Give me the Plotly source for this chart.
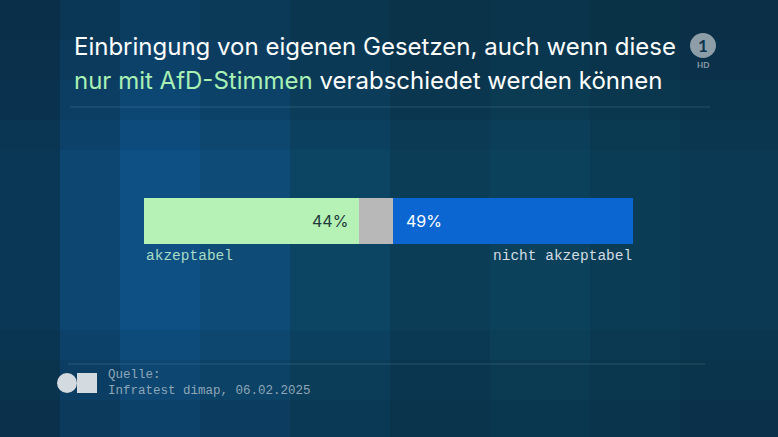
import plotly.graph_objects as go

W, H = 778, 437

# data
categories = ["akzeptabel", "weiß nicht", "nicht akzeptabel"]
values = [44, 7, 49]
value_labels = ["44%", "", "49%"]
bar_colors = ["#b6f2b6", "#b8b8b8", "#0b66d2"]
text_colors = ["#1d3b3a", "#1d3b3a", "#ffffff"]

title_line1 = "Einbringung von eigenen Gesetzen, auch wenn diese"
title_green = "nur mit AfD-Stimmen"
title_rest = " verabschiedet werden können"
source_lines = ["Quelle:", "Infratest dimap, 06.02.2025"]


def px(x):
    return x / W


def py(y):
    return 1 - y / H


fig = go.Figure()
for cat, val, col in zip(categories, values, bar_colors):
    fig.add_trace(go.Bar(
        y=[0], x=[val], orientation="h", name=cat,
        marker=dict(color=col, line=dict(width=0)),
        hoverinfo="skip",
    ))

# background stripes
stripes = [
    (0, 60, "#0b3756"), (60, 120, "#0d4670"), (120, 200, "#0e5084"),
    (200, 290, "#0e4b76"), (290, 390, "#0c4464"), (390, 490, "#0b3d57"),
    (490, 590, "#0c415c"), (590, 680, "#0b3c55"), (680, 778, "#0b3852"),
]
shapes = []
for x0, x1, c in stripes:
    shapes.append(dict(type="rect", xref="paper", yref="paper", x0=px(x0), x1=px(x1),
                       y0=0, y1=1, fillcolor=c, line=dict(width=0), layer="below"))
# darker top and bottom bands
for y0, y1, a in [(0, 40, 0.45), (40, 80, 0.35), (80, 120, 0.22), (120, 150, 0.1),
                  (330, 360, 0.12), (360, 400, 0.25), (400, 437, 0.35)]:
    shapes.append(dict(type="rect", xref="paper", yref="paper", x0=0, x1=1, y0=py(y1), y1=py(y0),
                       fillcolor=f"rgba(8,38,56,{a})", line=dict(width=0), layer="below"))
# thin separator lines
for y, x0, x1 in [(107, 70, 710), (364, 68, 705)]:
    shapes.append(dict(type="line", xref="paper", yref="paper", x0=px(x0), x1=px(x1),
                       y0=py(y), y1=py(y), line=dict(color="rgba(140,180,200,0.22)", width=1)))
# source logo
shapes.append(dict(type="circle", xref="paper", yref="paper", x0=px(57), x1=px(77),
                   y0=py(393), y1=py(373), fillcolor="#d3dbe0", line=dict(width=0)))
shapes.append(dict(type="rect", xref="paper", yref="paper", x0=px(77), x1=px(97),
                   y0=py(393), y1=py(373), fillcolor="#d3dbe0", line=dict(width=0)))
# broadcaster logo
shapes.append(dict(type="circle", xref="paper", yref="paper", x0=px(690), x1=px(716),
                   y0=py(58), y1=py(33), fillcolor="#8e9ea8", line=dict(width=0)))

annotations = [
    dict(x=px(72), y=py(46), xref="paper", yref="paper", xanchor="left", yanchor="middle",
         text=title_line1, showarrow=False,
         font=dict(family="Inter", size=24, color="#ffffff")),
    dict(x=px(72), y=py(81), xref="paper", yref="paper", xanchor="left", yanchor="middle",
         text=f"<span style='color:#a9f0b4'>{title_green}</span>{title_rest}", showarrow=False,
         font=dict(family="Inter", size=24, color="#ffffff")),
    dict(x=px(144), y=py(256), xref="paper", yref="paper", xanchor="left", yanchor="middle",
         text=categories[0], showarrow=False,
         font=dict(family="Liberation Mono", size=14.5, color="#a8dcc6")),
    dict(x=px(634), y=py(256), xref="paper", yref="paper", xanchor="right", yanchor="middle",
         text=categories[2], showarrow=False,
         font=dict(family="Liberation Mono", size=14.5, color="#d2dde3")),
    dict(x=px(106), y=py(383), xref="paper", yref="paper", xanchor="left", yanchor="middle",
         text="<br>".join(source_lines), showarrow=False, align="left",
         font=dict(family="Liberation Mono", size=12.5, color="#8ea6b6")),
    dict(x=px(703), y=py(45.5), xref="paper", yref="paper", xanchor="center", yanchor="middle",
         text="<b>1</b>", showarrow=False,
         font=dict(family="Lato", size=17, color="#0c3550")),
    dict(x=px(703), y=py(65), xref="paper", yref="paper", xanchor="center", yanchor="middle",
         text="<b>HD</b>", showarrow=False,
         font=dict(family="Lato", size=8, color="#8e9ea8")),
]

# value labels inside the outer segments
annotations.append(dict(x=values[0], y=0, xref="x", yref="y", xanchor="right", yanchor="middle",
                        xshift=-9, text=value_labels[0], showarrow=False,
                        font=dict(family="Inter", size=16, color=text_colors[0])))
annotations.append(dict(x=values[0] + values[1], y=0, xref="x", yref="y", xanchor="left",
                        yanchor="middle", xshift=11, text=value_labels[2], showarrow=False,
                        font=dict(family="Inter", size=16, color=text_colors[2])))

fig.update_layout(
    width=W, height=H,
    barmode="stack", bargap=0,
    showlegend=False,
    margin=dict(l=0, r=0, t=0, b=0),
    paper_bgcolor="#0b3a55", plot_bgcolor="rgba(0,0,0,0)",
    xaxis=dict(domain=[px(144), px(633)], range=[0, 100], visible=False, fixedrange=True),
    yaxis=dict(domain=[py(244), py(198)], range=[-0.5, 0.5], visible=False, fixedrange=True),
    shapes=shapes, annotations=annotations,
)

fig.write_html("out.html", config={"displayModeBar": False},
               post_script="document.body.style.margin='0';")
